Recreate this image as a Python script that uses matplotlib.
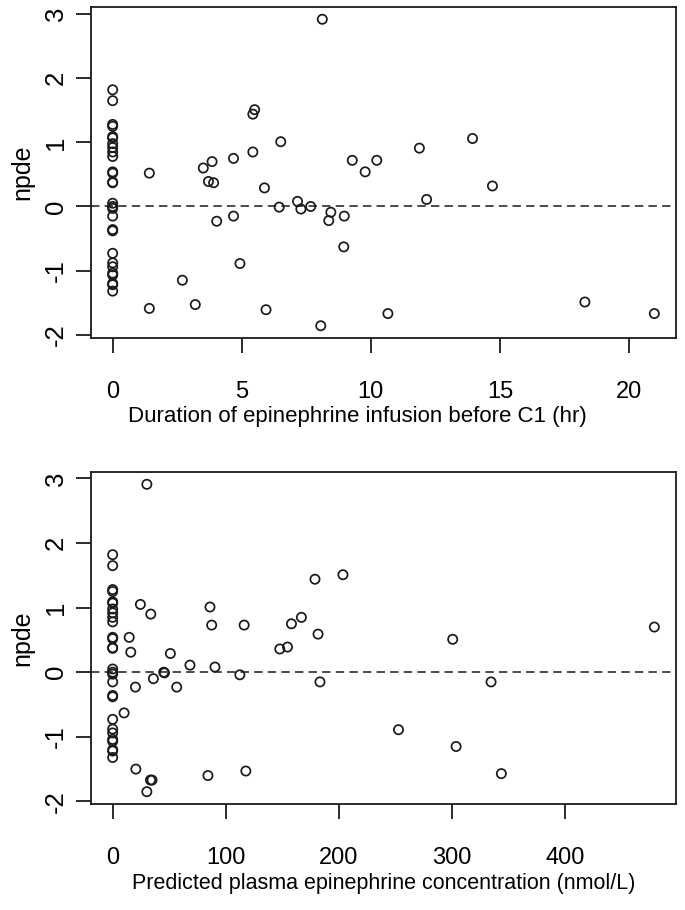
import matplotlib
matplotlib.use("Agg")
import matplotlib.pyplot as plt
import numpy as np

plt.rcParams['font.family'] = ['Liberation Sans', 'DejaVu Sans']

# npde values of observations with no epinephrine before C1 (x = 0 in both panels)
zero_npde = [1.82, 1.65, 1.28, 1.25, 1.09, 1.07, 0.98, 0.92, 0.85, 0.78, 0.54, 0.52,
             0.38, 0.37, 0.05, 0.00, -0.03, -0.15, -0.36, -0.38, -0.73, -0.88, -0.94,
             -1.04, -1.07, -1.20, -1.22, -1.32]
zero_x = [0.0] * len(zero_npde)

# Top panel: duration of infusion (hr)
dur_hr = [1.42, 1.42, 2.70, 3.20, 3.51, 3.85, 3.71, 3.91, 4.03, 4.68, 4.68, 4.93,
          5.43, 5.50, 5.43, 6.51, 5.88, 5.94, 6.45, 7.16, 7.29, 7.67, 8.12, 8.06,
          8.45, 8.37, 8.97, 8.95, 9.28, 9.78, 10.23, 10.66, 11.88, 12.16, 13.94,
          14.71, 18.29, 20.98]
dur_npde = [0.52, -1.59, -1.15, -1.53, 0.60, 0.70, 0.39, 0.37, -0.23, 0.75, -0.15, -0.89,
            1.44, 1.51, 0.85, 1.01, 0.29, -1.61, -0.01, 0.08, -0.04, 0.00, 2.92, -1.86,
            -0.09, -0.22, -0.15, -0.63, 0.72, 0.54, 0.72, -1.67, 0.91, 0.11, 1.06,
            0.32, -1.49, -1.67]

# Bottom panel: predicted plasma epinephrine concentration (nmol/L)
conc = [30.2, 24.5, 33.7, 14.6, 16.0, 51.0, 68.3, 86.0, 87.5, 116.2, 90.4, 147.7,
        154.5, 158.0, 45.1, 45.8, 36.0, 20.1, 56.6, 112.4, 10.1, 20.5, 33.4, 34.8,
        30.2, 84.2, 117.7, 166.8, 178.8, 203.5, 181.5, 183.2, 252.6, 300.5, 303.5,
        334.4, 343.5, 478.7]
conc_npde = [2.91, 1.05, 0.90, 0.54, 0.31, 0.29, 0.11, 1.01, 0.73, 0.73, 0.08, 0.36,
             0.39, 0.75, 0.00, -0.01, -0.10, -0.23, -0.23, -0.04, -0.63, -1.50, -1.67, -1.67,
             -1.85, -1.60, -1.53, 0.85, 1.44, 1.51, 0.59, -0.15, -0.89, 0.51, -1.15,
             -0.15, -1.57, 0.70]

dur_ticks = [0, 5, 10, 15, 20]
conc_ticks = [0, 100, 200, 300, 400]
y_ticks = [-2, -1, 0, 1, 2, 3]
dur_label = "Duration of epinephrine infusion before C1 (hr)"
conc_label = "Predicted plasma epinephrine concentration (nmol/L)"
y_label = "npde"

W, H = 685, 910
fig = plt.figure(figsize=(W / 100, H / 100), dpi=100)
INK = '#1a1a1a'


def rlim(vals):
    lo, hi = min(vals), max(vals)
    r = hi - lo
    return lo - 0.04 * r, hi + 0.04 * r


def panel(rect, xs, ys, xticks, xlabel, xlab_x, xlab_size):
    ax = fig.add_axes(rect)
    ax.scatter(xs, ys, s=44, facecolors='none', edgecolors=INK, linewidths=1.25,
               zorder=3)
    ax.axhline(0, color=INK, lw=1.1, dashes=[5.5, 3.4], zorder=2)
    ax.set_xlim(*rlim(xs))
    ax.set_ylim(*rlim(ys))
    ax.set_xticks(xticks)
    ax.set_yticks(y_ticks)
    ax.set_xticklabels([str(t) for t in xticks])
    ax.set_yticklabels([str(t) for t in y_ticks])
    for s in ax.spines.values():
        s.set_linewidth(1.3)
        s.set_color(INK)
    ax.tick_params(direction='out', length=10.8, width=1.3, color=INK, top=False,
                   right=False)
    ax.tick_params(axis='x', pad=20, labelsize=17)
    ax.tick_params(axis='y', pad=6.0, labelsize=18.5)
    for lab in ax.get_yticklabels():
        lab.set_rotation(90)
        lab.set_va('center')
        lab.set_ha('right')
    ax.set_xlabel(xlabel, fontsize=xlab_size)
    ax.xaxis.set_label_coords(xlab_x, -0.255)
    ax.xaxis.label.set_va('baseline')
    ax.set_ylabel(y_label, fontsize=18)
    ax.yaxis.set_label_coords(-0.118, 0.5)
    ax.yaxis.label.set_va('center')
    return ax


left = 91 / W
width = 585 / W
panel([left, 1 - 338 / H, width, 331 / H], zero_x + dur_hr, zero_npde + dur_npde,
      dur_ticks, dur_label, 0.456, 16)
panel([left, 1 - 804 / H, width, 332 / H], zero_x + conc, zero_npde + conc_npde,
      conc_ticks, conc_label, 0.5, 15.5)

fig.savefig("out.png", dpi=100)
